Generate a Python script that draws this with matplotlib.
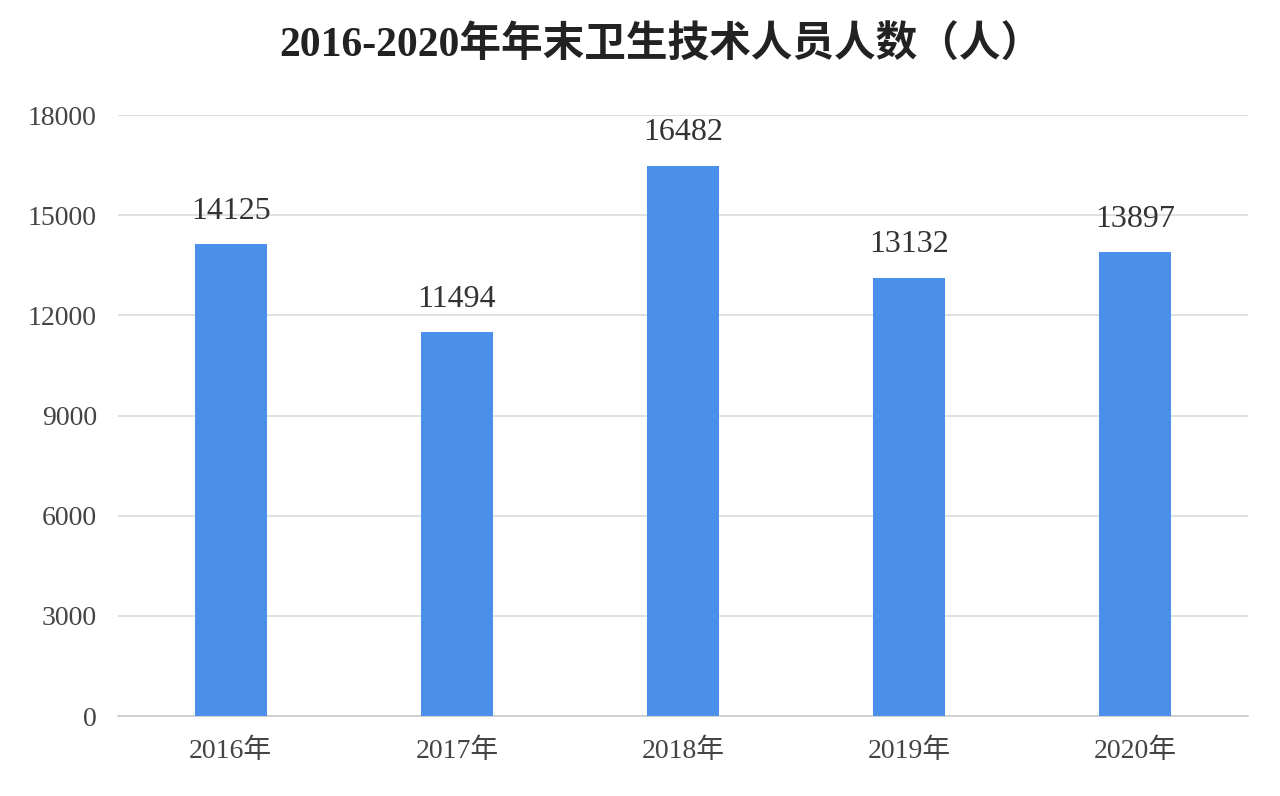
import matplotlib
matplotlib.use('Agg')
from matplotlib import pyplot as plt

plt.rcParams['font.family'] = ['Liberation Serif', 'Noto Sans CJK SC', 'DejaVu Sans']

years = ['2016年', '2017年', '2018年', '2019年', '2020年']
staff = [14125, 11494, 16482, 13132, 13897]
yticks = [0, 3000, 6000, 9000, 12000, 15000, 18000]
title = '2016-2020年年末卫生技术人员人数（人）'

fig = plt.figure(figsize=(12.8, 7.96), dpi=100)
ax = fig.add_axes([0.092, 0.1005, 0.883, 0.755])

x = range(len(years))
ax.bar(x, staff, width=0.32, color='#4a8fe9', zorder=3)
for xi, v in zip(x, staff):
    ax.text(xi, v + 550, str(v), ha='center', va='bottom', fontsize=23, color='#333333')

ax.set_xlim(-0.5, len(years) - 0.5)
ax.set_ylim(0, 18000)
ax.set_yticks(yticks)
ax.set_yticklabels([str(t) for t in yticks], fontsize=20, color='#444444')
ax.set_xticks(list(x))
ax.set_xticklabels(years, fontsize=20, color='#444444')
ax.tick_params(axis='y', length=0, pad=15)
ax.tick_params(axis='x', length=0, pad=16)
ax.grid(axis='y', color='#d6dcdf', linewidth=1.2, zorder=0)
for s in ['top', 'right', 'left']:
    ax.spines[s].set_visible(False)
ax.spines['bottom'].set_color('#c8cccf')
ax.spines['bottom'].set_linewidth(1.2)

fig.text(0.516, 0.943, title, ha='center', va='center', fontsize=30,
         fontweight='bold', color='#222222')

fig.savefig('out.png', dpi=100)
